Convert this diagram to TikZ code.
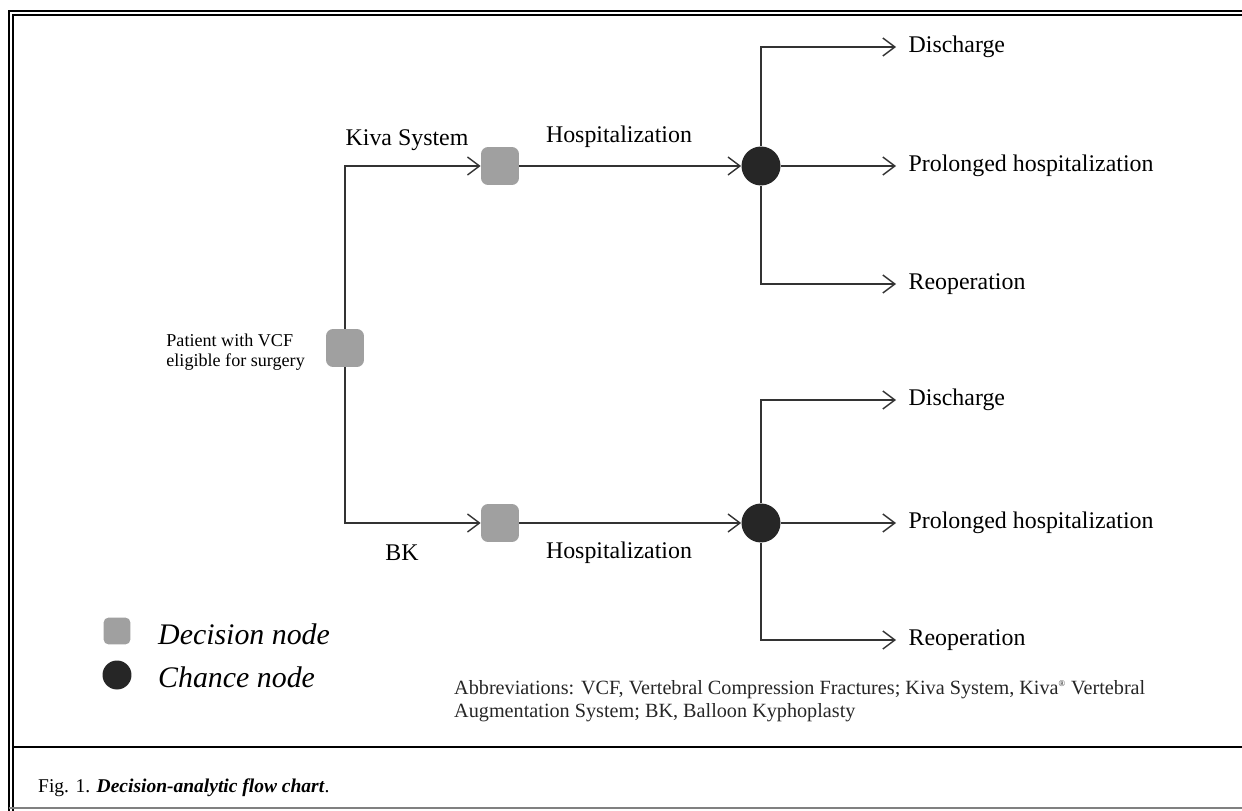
\documentclass[tikz,border=0pt]{standalone}
\usepackage{fontspec}
\setmainfont{Liberation Serif}
\usetikzlibrary{arrows.meta,positioning}

\definecolor{decgray}{HTML}{A0A0A0}
\definecolor{chanceblack}{HTML}{262626}
\definecolor{linegray}{HTML}{333333}

\tikzset{
  decisionbox/.style={rectangle,rounded corners=4pt,fill=decgray,minimum size=0.76cm,inner sep=0pt},
  chancedot/.style={circle,fill=chanceblack,minimum size=0.78cm,inner sep=0pt},
  branch/.style={draw=linegray,line width=0.8pt,-{Straight Barb[length=2.4mm,width=3.6mm]}},
  outcome/.style={anchor=west,inner xsep=7pt,font=\fontsize{13.6}{16}\selectfont},
  armlabel/.style={font=\fontsize{13.6}{16}\selectfont},
  legendtext/.style={anchor=west,font=\fontsize{17}{20}\itshape}
}

\begin{document}
\begin{tikzpicture}[x=0.02cm,y=-0.02cm]
\useasboundingbox (0,0) rectangle (1242,811);

% Frame
\draw[line width=1.7pt] (9,811) -- (9,11) -- (1242,11);
\draw[line width=0.6pt] (13,811) -- (13,15) -- (1242,15);
\draw[line width=1.7pt] (13,747) -- (1242,747);
\draw[line width=0.6pt,gray] (9,808) -- (1242,808);

% Decision and chance nodes
\node[decisionbox] (patient) at (345,348) {};
\node[decisionbox] (kiva) at (500,166) {};
\node[decisionbox] (bk) at (500,523) {};
\node[chancedot] (ctop) at (761,166) {};
\node[chancedot] (cbot) at (761,523) {};

% Patient text
\node[align=left,anchor=east,font=\fontsize{10.3}{11.5}\selectfont] (ptext) at (311,352) {Patient with VCF\\eligible for surgery};

% Arms
\draw[branch] (patient.north) |- (kiva.west);
\draw[branch] (patient.south) |- (bk.west);
\draw[branch] (kiva.east) -- (ctop.west);
\draw[branch] (bk.east) -- (cbot.west);

\node[armlabel] (lkiva) at (407,140) {Kiva System};
\node[armlabel] (lhtop) at (619,137) {Hospitalization};
\node[armlabel] (lbk) at (402,553) {BK};
\node[armlabel] (lhbot) at (619,553) {Hospitalization};

% Outcomes
\foreach \c/\y/\up/\dn in {ctop/166/119/118, cbot/523/123/117} {
  \node[outcome] (\c-dis) at (896,\y-\up) {Discharge};
  \node[outcome] (\c-pro) at (896,\y) {Prolonged hospitalization};
  \node[outcome] (\c-reo) at (896,\y+\dn) {Reoperation};
  \draw[branch] (\c.north) |- (\c-dis.west);
  \draw[branch] (\c.east) -- (\c-pro.west);
  \draw[branch] (\c.south) |- (\c-reo.west);
}

% Legend
\node[decisionbox,minimum size=0.54cm,rounded corners=3pt] (legdec) at (117,631) {};
\node[chancedot,minimum size=0.58cm] (legcha) at (117,675) {};
\node[legendtext] (legdectext) at (152,634) {Decision node};
\node[legendtext] (legchatext) at (152,677) {Chance node};

% Abbreviations
\node[anchor=north west,align=left,text=black!85,font=\fontsize{11.5}{13.5}\selectfont] (abbr) at (448,674)
  {Abbreviations: VCF, Vertebral Compression Fractures; Kiva System, Kiva\textsuperscript{\tiny\textregistered} Vertebral\\Augmentation System; BK, Balloon Kyphoplasty};

% Caption
\node[anchor=west,font=\fontsize{11.1}{13}\selectfont] (caption) at (32,788) {Fig. 1. \textbf{\textit{Decision-analytic flow chart}}.};
\end{tikzpicture}
\end{document}
